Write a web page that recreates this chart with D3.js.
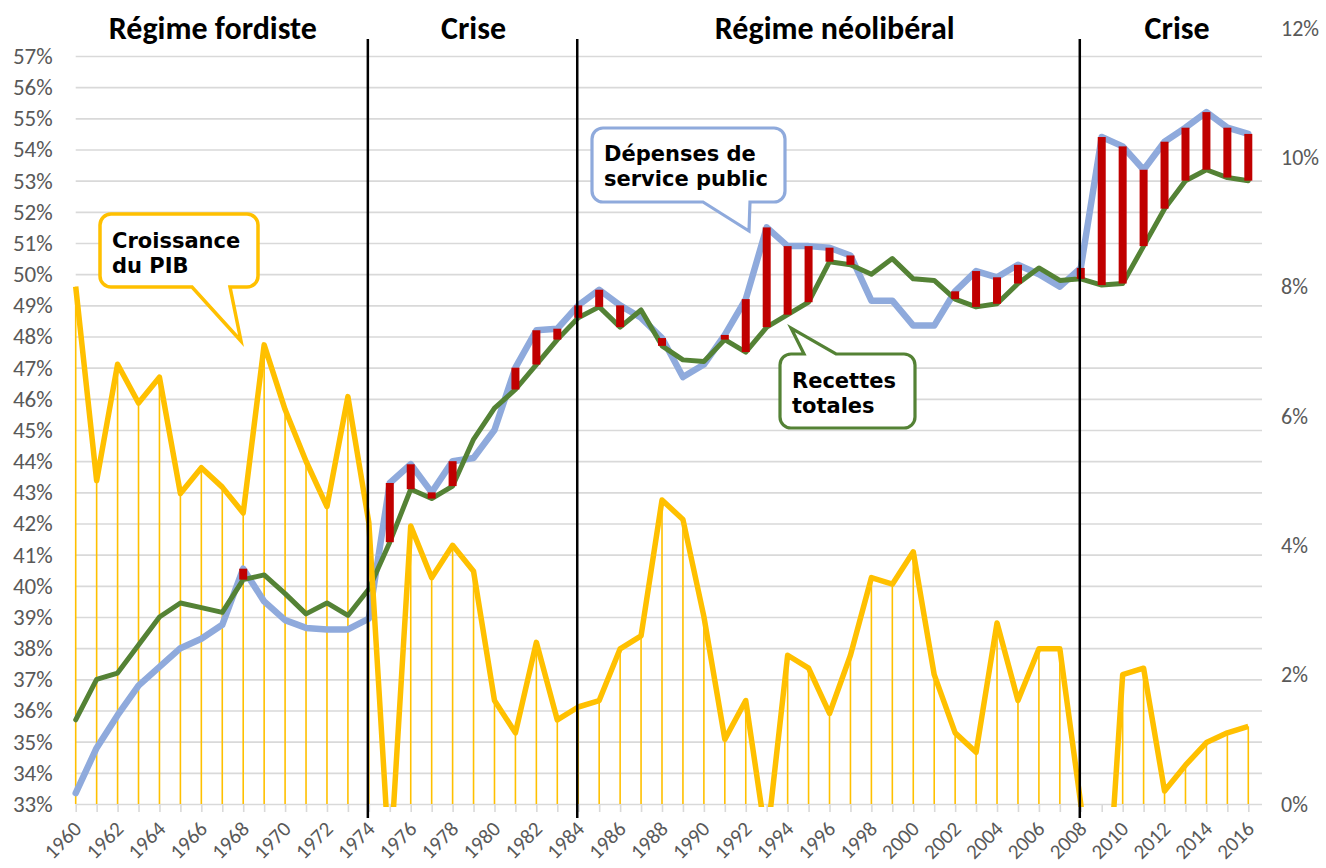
<!DOCTYPE html>
<html><head><meta charset="utf-8">
<script src="https://cdn.jsdelivr.net/npm/d3@7"></script>
<style>
body{margin:0;background:#fff}
svg{display:block}
</style>
</head><body>
<svg id="chart" width="1326" height="868"></svg>
<script>
// ---------- data ----------
const years = [1960,1961,1962,1963,1964,1965,1966,1967,1968,1969,
  1970,1971,1972,1973,1974,1975,1976,1977,1978,1979,
  1980,1981,1982,1983,1984,1985,1986,1987,1988,1989,
  1990,1991,1992,1993,1994,1995,1996,1997,1998,1999,
  2000,2001,2002,2003,2004,2005,2006,2007,2008,2009,
  2010,2011,2012,2013,2014,2015,2016];

// Dépenses de service public (% du PIB, axe gauche)
const depenses = [33.35,34.8,35.85,36.8,37.4,38.0,38.3,38.75,40.55,39.5,
  38.9,38.65,38.6,38.6,38.95,43.3,43.9,43.0,44.0,44.1,
  45.0,47.0,48.2,48.25,49.0,49.5,49.0,48.6,47.95,46.7,
  47.1,48.05,49.2,51.5,50.9,50.9,50.85,50.6,49.15,49.15,
  48.35,48.35,49.45,50.1,49.9,50.3,50.0,49.6,50.2,54.4,
  54.1,53.35,54.25,54.7,55.2,54.7,54.5];

// Recettes totales (% du PIB, axe gauche)
const recettes = [35.7,37.0,37.2,38.1,39.0,39.45,39.3,39.15,40.2,40.35,
  39.75,39.1,39.45,39.05,39.9,41.4,43.1,42.8,43.2,44.7,
  45.7,46.3,47.1,47.9,48.6,48.95,48.3,48.85,47.7,47.25,
  47.2,47.9,47.5,48.3,48.7,49.1,50.4,50.3,50.0,50.5,
  49.85,49.8,49.2,48.95,49.05,49.7,50.2,49.8,49.85,49.65,
  49.7,50.9,52.1,53.0,53.35,53.1,53.0];

// Croissance du PIB (%, axe droit)
const croissance = [8.0,5.0,6.8,6.2,6.6,4.8,5.2,4.9,4.5,7.1,
  6.1,5.3,4.6,6.3,4.35,-1.0,4.3,3.5,4.0,3.6,
  1.6,1.1,2.5,1.3,1.5,1.6,2.4,2.6,4.7,4.4,
  2.9,1.0,1.6,-0.6,2.3,2.1,1.4,2.3,3.5,3.4,
  3.9,2.0,1.1,0.8,2.8,1.6,2.4,2.4,0.0,-2.9,
  2.0,2.1,0.2,0.6,0.95,1.1,1.2];

const leftTicks = [33,34,35,36,37,38,39,40,41,42,43,44,45,46,47,48,49,50,51,52,53,54,55,56,57];
const rightTicks = [0,2,4,6,8,10,12];
const xLabelYears = [1960,1962,1964,1966,1968,1970,1972,1974,1976,1978,1980,1982,1984,1986,1988,
  1990,1992,1994,1996,1998,2000,2002,2004,2006,2008,2010,2012,2014,2016];
const periodBreaks = [1974, 1984, 2008];
const periodNames = ["Régime fordiste", "Crise", "Régime néolibéral", "Crise"];
const periodCenters = [1966.55, 1979.0, 1996.25, 2012.6];
const calloutTexts = [["Croissance","du PIB"],["Dépenses de","service public"],["Recettes","totales"]];

// ---------- setup ----------
const svg = d3.select("#chart");
const plot = {left: 75.7, right: 1262, top: 28, bottom: 804};

const x = d3.scaleLinear().domain([1960, 2016]).range([75.7, 1248.3]);
const yL = d3.scaleLinear().domain([33, 57]).range([804, 56]);
const yR = d3.scaleLinear().domain([0, 12]).range([804, 28]);

const COL = {blue:"#8FAADC", green:"#548235", yellow:"#FFC000", red:"#C00000", grid:"#D9D9D9", text:"#595959"};
const tickFont = "Carlito, Lato, 'Open Sans', sans-serif";

svg.append("defs").append("clipPath").attr("id","clip")
  .append("rect").attr("x", plot.left - 5).attr("y", plot.top).attr("width", plot.right - plot.left + 10).attr("height", 807 - plot.top);

// gridlines (left axis)
const grid = svg.append("g").attr("transform", `translate(${plot.left},0)`)
  .call(d3.axisLeft(yL).tickValues(leftTicks).tickSize(-(plot.right - plot.left)).tickFormat(""));
grid.select(".domain").remove();
grid.selectAll("line").attr("stroke", COL.grid).attr("stroke-width", 1.6);

// x axis tick marks + labels
const xAxis = svg.append("g").attr("transform", `translate(0,${plot.bottom})`)
  .call(d3.axisBottom(x).tickValues(years).tickSize(8).tickFormat(""));
xAxis.select(".domain").remove();
xAxis.selectAll("line").attr("stroke", COL.grid).attr("stroke-width", 1.6);

svg.append("g").selectAll("text").data(xLabelYears).join("text")
  .attr("transform", d => `translate(${x(d) + 2},${825}) rotate(-45)`)
  .attr("text-anchor", "end").attr("dy", "0.35em")
  .attr("font-family", tickFont).attr("font-size", 21).attr("fill", COL.text)
  .text(d => d);

// left axis labels
const la = svg.append("g").attr("transform", `translate(${plot.left},0)`)
  .call(d3.axisLeft(yL).tickValues(leftTicks).tickSize(0).tickPadding(23).tickFormat(d => d + "%"));
la.select(".domain").remove();
la.selectAll("text").attr("font-family", tickFont).attr("font-size", 23).attr("fill", COL.text);

// right axis labels
const ra = svg.append("g").attr("transform", `translate(${plot.right},0)`)
  .call(d3.axisRight(yR).tickValues(rightTicks).tickSize(0).tickPadding(19).tickFormat(d => d + "%"));
ra.select(".domain").remove();
ra.selectAll("text").attr("font-family", tickFont).attr("font-size", 22).attr("fill", COL.text);

const clipped = svg.append("g").attr("clip-path", "url(#clip)");

// drop lines (yellow)
clipped.append("g").selectAll("line").data(years.map((y, i) => ({y, v: croissance[i]})).filter(d => d.v > 0))
  .join("line")
  .attr("x1", d => x(d.y)).attr("x2", d => x(d.y))
  .attr("y1", d => yR(d.v)).attr("y2", yR(0))
  .attr("stroke", COL.yellow).attr("stroke-width", 1.6);

// blue & green lines
const lineL = arr => d3.line().x((d, i) => x(years[i])).y(d => yL(d))(arr);
clipped.append("path").attr("d", lineL(depenses)).attr("fill", "none")
  .attr("stroke", COL.blue).attr("stroke-width", 6.5).attr("stroke-linejoin", "round").attr("stroke-linecap", "round");
clipped.append("path").attr("d", lineL(recettes)).attr("fill", "none")
  .attr("stroke", COL.green).attr("stroke-width", 5).attr("stroke-linejoin", "round").attr("stroke-linecap", "round");

// red deficit bars
const deficit = years.map((y, i) => ({y, d: depenses[i], r: recettes[i]})).filter(o => o.d > o.r);
clipped.append("g").selectAll("rect").data(deficit).join("rect")
  .attr("x", o => x(o.y) - 4).attr("width", 8)
  .attr("y", o => yL(o.d)).attr("height", o => yL(o.r) - yL(o.d))
  .attr("fill", COL.red);

// yellow growth line
const lineR = d3.line().x((d, i) => x(years[i])).y(d => yR(d));
clipped.append("path").attr("d", lineR(croissance)).attr("fill", "none")
  .attr("stroke", COL.yellow).attr("stroke-width", 5.5).attr("stroke-linejoin", "round");

// period separators
svg.append("g").selectAll("line").data(periodBreaks).join("line")
  .attr("x1", d => x(d) - 1).attr("x2", d => x(d) - 1)
  .attr("y1", 39).attr("y2", 818)
  .attr("stroke", "#000").attr("stroke-width", 2.5);

// period titles
svg.append("g").selectAll("text").data(periodNames).join("text")
  .attr("x", (d, i) => x(periodCenters[i])).attr("y", 39)
  .attr("text-anchor", "middle")
  .attr("font-family", "Carlito, Lato, sans-serif").attr("font-weight", "bold").attr("font-size", 32)
  .attr("fill", "#000").text(d => d);

// callouts
function calloutPath(b, p) {
  const {x: bx, y: by, w, h, r} = b;
  let s = `M${bx + r},${by}`;
  if (p.side === "top") s += `L${p.a},${by}L${p.tx},${p.ty}L${p.b},${by}`;
  s += `L${bx + w - r},${by}A${r},${r} 0 0 1 ${bx + w},${by + r}`;
  s += `L${bx + w},${by + h - r}A${r},${r} 0 0 1 ${bx + w - r},${by + h}`;
  if (p.side === "bottom") s += `L${p.b},${by + h}L${p.tx},${p.ty}L${p.a},${by + h}`;
  s += `L${bx + r},${by + h}A${r},${r} 0 0 1 ${bx},${by + h - r}`;
  s += `L${bx},${by + r}A${r},${r} 0 0 1 ${bx + r},${by}Z`;
  return s;
}
const callouts = [
  {box:{x:100, y:214, w:158, h:73, r:11}, ptr:{side:"bottom", a:192, b:230, tx:241, ty:341}, color:COL.yellow, sw:3.5, tx:112, ty:248},
  {box:{x:592, y:128, w:193, h:74, r:11}, ptr:{side:"bottom", a:703, b:750, tx:749, ty:231}, color:COL.blue, sw:3.2, tx:604, ty:161},
  {box:{x:780, y:354, w:135, h:74, r:11}, ptr:{side:"top", a:804, b:836, tx:791, ty:328}, color:COL.green, sw:3.2, tx:792, ty:388}
];
const cg = svg.append("g");
callouts.forEach((c, i) => {
  cg.append("path").attr("d", calloutPath(c.box, c.ptr)).attr("fill", "#fff")
    .attr("stroke", c.color).attr("stroke-width", c.sw).attr("stroke-linejoin", "miter");
  const t = cg.append("text").attr("font-family", "'DejaVu Sans', Verdana, sans-serif")
    .attr("font-weight", "bold").attr("font-size", 21).attr("fill", "#000");
  calloutTexts[i].forEach((line, j) => {
    t.append("tspan").attr("x", c.tx).attr("y", c.ty + j * 25).text(line);
  });
});
</script>
</body></html>
